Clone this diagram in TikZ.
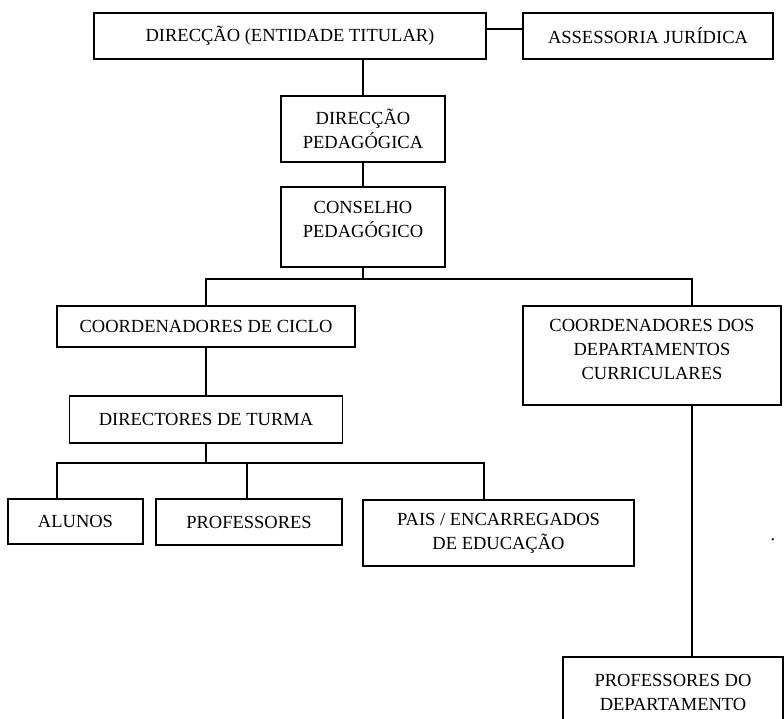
\documentclass[tikz,border=0pt]{standalone}
\usepackage{fontspec}
\setmainfont{Liberation Serif}
\usetikzlibrary{calc}
\begin{document}
\begin{tikzpicture}[x=1pt,y=-1pt,
  orgbox/.style={draw=black,line width=1.7pt,rectangle,inner sep=0pt,align=center,
     font=\fontsize{18.5}{24}\selectfont},
  link/.style={draw=black,line width=1.7pt}]
\useasboundingbox (0,0) rectangle (784,718);
\clip (0,0) rectangle (784,718);
\fill[white] (0,0) rectangle (784,718);
\node[orgbox,minimum width=392pt,minimum height=46pt] (dir) at (290,36) {DIRECÇÃO (ENTIDADE TITULAR)};
\node[orgbox,minimum width=250pt,minimum height=46pt] (ass) at (648,36) {ASSESSORIA JURÍDICA};
\node[orgbox,minimum width=164pt,minimum height=66pt] (dped) at (363,129) {DIRECÇÃO\\PEDAGÓGICA};
\node[orgbox,minimum width=164pt,minimum height=80pt,text depth=16pt] (cped) at (363,227) {CONSELHO\\PEDAGÓGICO};
\node[orgbox,minimum width=258pt,minimum height=99pt,text depth=13pt] (cdep) at (652,355.5) {COORDENADORES DOS\\DEPARTAMENTOS\\CURRICULARES};
\node[orgbox,minimum width=298pt,minimum height=41pt] (cc) at (206,326.5) {COORDENADORES DE CICLO};
\node[orgbox,minimum width=273pt,minimum height=47pt] (dt) at (206,419.5) {DIRECTORES DE TURMA};
\node[orgbox,minimum width=135pt,minimum height=45pt] (alu) at (75.5,521.5) {ALUNOS};
\node[orgbox,minimum width=186pt,minimum height=46pt] (prof) at (249,522) {PROFESSORES};
\node[orgbox,minimum width=271pt,minimum height=66pt] (pais) at (498.5,533) {PAIS / ENCARREGADOS\\DE EDUCAÇÃO};
\node[orgbox,minimum width=220pt,minimum height=72pt,anchor=north] (pdep) at (673,656) {PROFESSORES DO\\DEPARTAMENTO};
\node[inner sep=0pt,anchor=base,font=\fontsize{18.5}{24}\selectfont] (dot) at (773,540) {.};
% connectors
\draw[link] ($(dir.east)+(0,-7)$) -- ($(ass.west)+(0,-7)$);
\draw[link] (dped.north |- dir.south) -- (dped.north);
\draw[link] (dped.south) -- (cped.north);
\coordinate (bus1) at ($(cped.south)+(0,11)$);
\draw[link] (cped.south) -- (bus1);
\coordinate (cdtop) at ($(cdep.north)+(40,0)$);
\draw[link] (cc.north) |- (bus1) -| (cdtop);
\draw[link] (cc.south) -- (dt.north);
\coordinate (bus2) at ($(dt.south)+(0,19)$);
\draw[link] (dt.south) -- (bus2);
\coordinate (alutop) at ($(alu.north west)+(50,0)$);
\coordinate (paistop) at ($(pais.north)+(-14.5,0)$);
\draw[link] (alutop) |- (bus2) -| (paistop);
\coordinate (proftop) at ($(prof.north)+(-2,0)$);
\draw[link] (proftop) -- ++(0,-34);
\coordinate (cdbot) at ($(cdep.south)+(40,0)$);
\draw[link] (cdbot) -- (cdbot |- pdep.north);
\end{tikzpicture}
\end{document}
